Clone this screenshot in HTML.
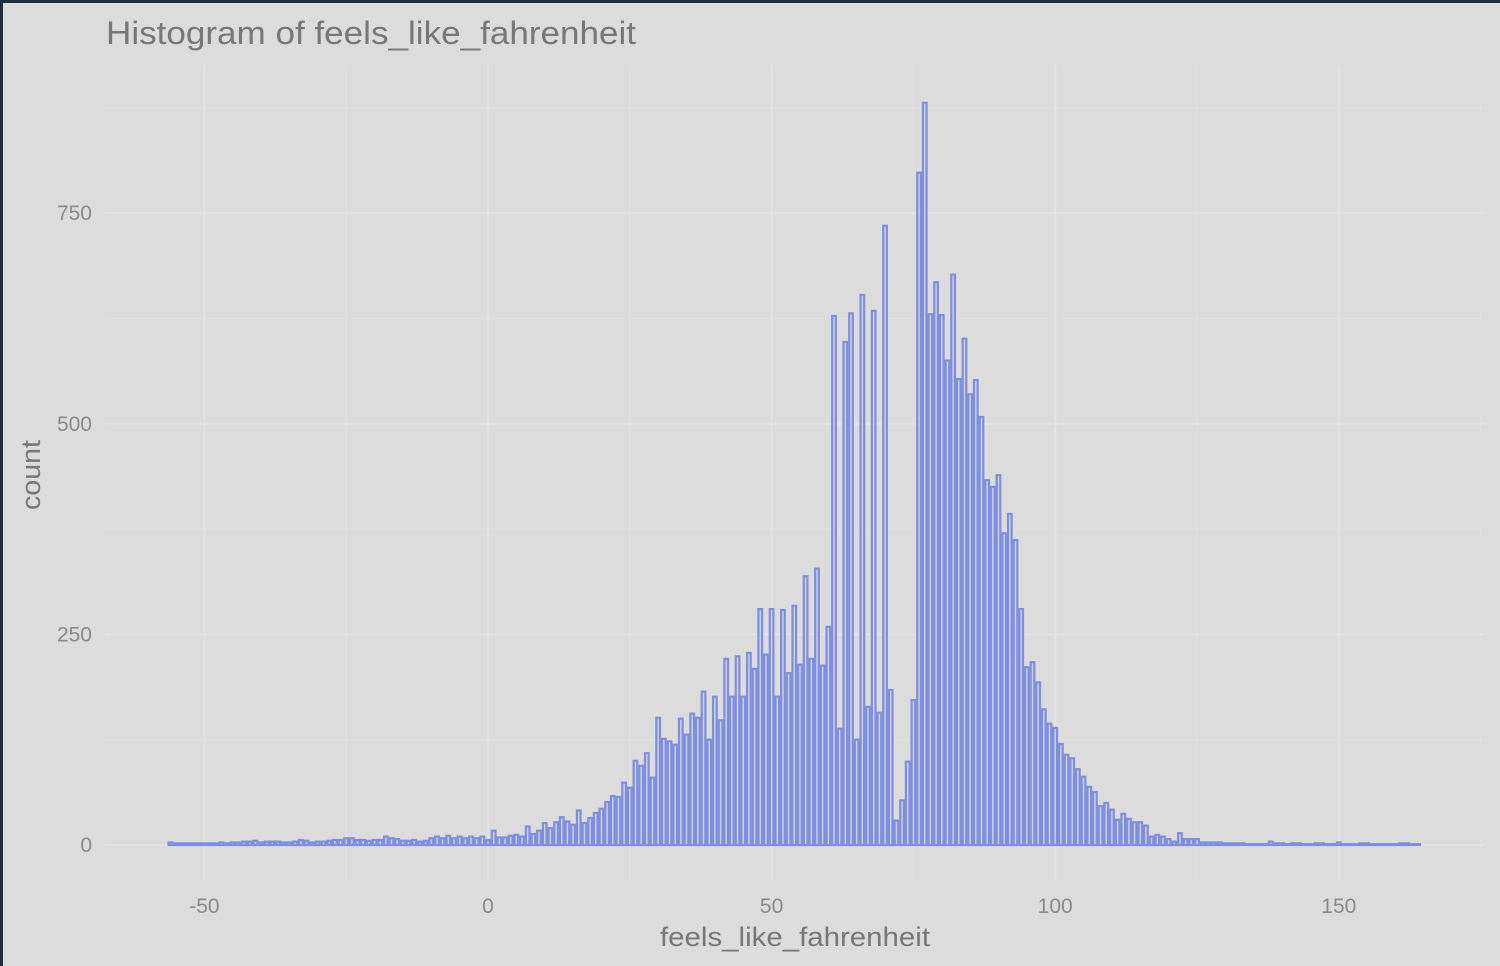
<!DOCTYPE html>
<html><head><meta charset="utf-8">
<style>
html,body{margin:0;padding:0;}
body{width:1500px;height:966px;background:#1f2f40;overflow:hidden;font-family:"Liberation Sans",sans-serif;}
#frame{position:absolute;left:3px;top:3px;width:1497px;height:963px;background:#dcdcdc;}
svg{position:absolute;left:0;top:0;}
</style></head>
<body>
<div id="frame"></div>
<svg id="chart" width="1500" height="966">
  <g id="grid"></g>
  <g id="bars"></g>
  <g id="axes"></g>
  <text x="106" y="44" font-size="32" fill="#777" textLength="530" lengthAdjust="spacingAndGlyphs">Histogram of feels_like_fahrenheit</text>
  <text x="660" y="946" font-size="27" fill="#777" textLength="270" lengthAdjust="spacingAndGlyphs">feels_like_fahrenheit</text>
  <text x="40" y="475" font-size="27" fill="#777" text-anchor="middle" textLength="70" lengthAdjust="spacingAndGlyphs" transform="rotate(-90 40 475)">count</text>
</svg>
<script>
const binStart = -56;
const leftTail = [3,2,2,2,2,2,2,2,2,3, 2,3,3,4,4,5,3,4,4,4, 3,3,4,6,5,3,4,4,5,6, 6,8,8,6,6,5,6,6,10,8, 7,5,5,6,4,5,8,10,8,11, 8,10,8,10,8];
const rising = [10,6,17,9,9,11,12,10,22,13,17,26,20,27,33,28,24,41,26,32,38,43,51,58,57,74,68,100,94,109,80,151,126,123,119,150,131,156,151,182,125,176,148,221,176,224,176,228,209,280,226,280,176,279,204,284,214,319,221,328,213,259];
const peak = [628,138,597,631,125,653,164,634,157,735,184,29,53,99,172,798,881,630,668,629,575,677,553,601,535,552,508,433,425,439,370,393,362,280,211,217,193,161,144,139,120,107];
const rightTail = [103,90,81,69,63,46,50,42,30,37, 31,27,27,23,10,12,10,7,4,14, 7,7,7,3,3,3,3,2,2,2, 2,1,1,1,1,4,2,2,1,2, 2,1,1,2,2,1,1,3,1,1, 1,2,2,1,1,1,1,1,2,2, 1,1];
const counts = leftTail.concat(rising, peak, rightTail);
const xTicks = [-50,0,50,100,150];
const xMinor = [-75,-25,25,75,125,175];
const yTicks = [0,250,500,750];
const yMinor = [125,375,625,875];

const NS = "http://www.w3.org/2000/svg";
const X = v => 488 + (v) * 5.672;
const Y = c => 845 - c * 0.8425;
const PL = 105, PR = 1485, PT = 65, PB = 880;

function mk(tag, attrs, parent){
  const e = document.createElementNS(NS, tag);
  for (const k in attrs) e.setAttribute(k, attrs[k]);
  parent.appendChild(e);
  return e;
}
const grid = document.getElementById('grid');
const axes = document.getElementById('axes');
const bars = document.getElementById('bars');

xMinor.forEach(v => {
  const x = X(v); if (x < PL || x > PR) return;
  const l = mk('line', {x1:x, x2:x, y1:PT, y2:PB, stroke:'#e0e0e0', 'stroke-width':1.2}, grid);
  
  
});
yMinor.forEach(c => {
  const y = Y(c); if (y < PT) return;
  const l = mk('line', {x1:PL, x2:PR, y1:y, y2:y, stroke:'#e0e0e0', 'stroke-width':1.2}, grid);
  
  
});
xTicks.forEach(v => {
  const x = X(v);
  const l = mk('line', {x1:x, x2:x, y1:PT, y2:PB, stroke:'#e3e3e3', 'stroke-width':2}, grid);
  
  
  const t = mk('text', {x:x, y:913, 'font-size':21, fill:'#8a8a8a', 'text-anchor':'middle'}, axes);
  t.textContent = String(v);
  
  
});
yTicks.forEach(c => {
  const y = Y(c);
  const l = mk('line', {x1:PL, x2:PR, y1:y, y2:y, stroke:'#e3e3e3', 'stroke-width':2}, grid);
  
  
  const t = mk('text', {x:92, y:y+7, 'font-size':21, fill:'#8a8a8a', 'text-anchor':'end'}, axes);
  t.textContent = String(c);
  
  
});
counts.forEach((c, i) => {
  const v = binStart + i;
  const x0 = X(v - 0.5), x1 = X(v + 0.5);
  const r = mk('rect', {x:x0 + 1, y:Y(c), width:Math.max(0, x1 - x0 - 2), height:Math.max(0, Y(0) - Y(c)),
    fill:'#cdd1dc', stroke:'#7f8fe0', 'stroke-width':2.2}, bars);
  
  
});
</script>
</body></html>
